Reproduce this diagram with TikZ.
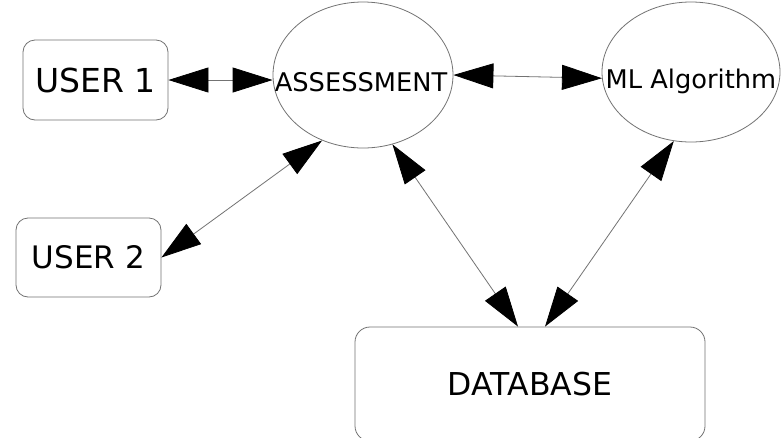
\documentclass[tikz,border=0pt]{standalone}
\usepackage{fontspec}
\setmainfont{DejaVu Sans}
\usetikzlibrary{shapes.geometric,arrows.meta,calc}
\begin{document}
\begin{tikzpicture}[x=1pt,y=-1pt,
 box/.style={draw=black!55, line width=0.8pt, rounded corners=12pt, inner sep=0pt},
 oval/.style={draw=black!55, line width=0.8pt, ellipse, inner sep=0pt},
 lbl/.style={inner sep=0pt, font=\fontsize{25.7}{30}\selectfont},
 link/.style={draw=black!55, line width=0.8pt, {Triangle[length=40pt,width=25pt,black]}-{Triangle[length=40pt,width=25pt,black]}},
]
\useasboundingbox (0,0) rectangle (781,437);
\fill[white] (0,0) rectangle (781,437);
\node[box, minimum width=145pt, minimum height=80pt, font=\fontsize{33}{38}\selectfont] (u1) at (95.5,80) {USER 1};
\node[box, minimum width=145pt, minimum height=79pt, font=\fontsize{31}{36}\selectfont] (u2) at (88.5,257.5) {USER 2};
\node[box, rounded corners=15pt, minimum width=350pt, minimum height=114pt, font=\fontsize{31.5}{37}\selectfont] (db) at (530,384) {DATABASE};
\node[oval, minimum width=180pt, minimum height=146pt] (as) at (363,75) {};
\node[oval, minimum width=178pt, minimum height=140pt] (ml) at (691,72) {};
\node[lbl] (asl) at (361,82.5) {ASSESSMENT};
\node[lbl, anchor=base] (mll) at (691,88) {ML Algorithm};
\draw[link] (u1.east) -- (u1.east -| as.west);
\draw[link] (as.east) -- (ml.184);
\draw[link] (u2.east) -- (as.238);
\draw[link] (as.293) -- ($(db.north)+(-12,0)$);
\draw[link] (ml.256) -- ($(db.north)+(15,0)$);
\end{tikzpicture}
\end{document}
